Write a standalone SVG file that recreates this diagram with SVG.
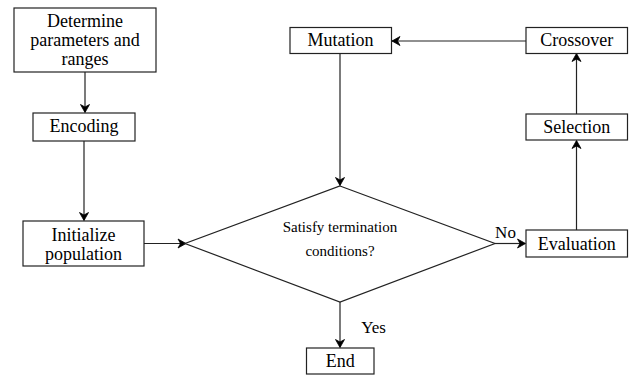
<svg xmlns="http://www.w3.org/2000/svg" width="632" height="376" viewBox="0 0 632 376">
<defs>
<marker id="arr" viewBox="-10 -6 12 12" markerWidth="12" markerHeight="12" refX="0" refY="0" orient="auto" markerUnits="userSpaceOnUse">
<path d="M-8,-4.5 L0,0 L-8,4.5 L-5.5,0 Z" fill="#000" stroke="#000" stroke-width="0.8"/>
</marker>
</defs>
<rect width="632" height="376" fill="#fff"/>
<g id="connectors" fill="none" stroke="#222" stroke-width="1.2" marker-end="url(#arr)">
<line x1="85" y1="72" x2="85" y2="112.5"/>
<line x1="84" y1="141" x2="84" y2="220.5"/>
<line x1="144" y1="243.5" x2="186" y2="243.5"/>
<line x1="340" y1="53.5" x2="340" y2="185.5"/>
<line x1="340" y1="302" x2="340" y2="347.5"/>
<line x1="495" y1="243.5" x2="525.5" y2="243.5"/>
<line x1="576.5" y1="230" x2="576.5" y2="140.5"/>
<line x1="576.5" y1="114" x2="576.5" y2="53.5"/>
<line x1="526" y1="41" x2="392" y2="41"/>
</g>
<g id="determine">
<rect x="14" y="8" width="142" height="64" fill="#fff" stroke="#222" stroke-width="1.2"/>
<text x="85" y="27" font-family="Liberation Serif, serif" font-size="18" text-anchor="middle">Determine</text>
<text x="85" y="46" font-family="Liberation Serif, serif" font-size="18" text-anchor="middle">parameters and</text>
<text x="85" y="65" font-family="Liberation Serif, serif" font-size="18" text-anchor="middle">ranges</text>
</g>
<g id="encoding">
<rect x="33" y="113" width="102" height="28" fill="#fff" stroke="#222" stroke-width="1.2"/>
<text x="84" y="132" font-family="Liberation Serif, serif" font-size="18" text-anchor="middle">Encoding</text>
</g>
<g id="initialize">
<rect x="23" y="221" width="121" height="45" fill="#fff" stroke="#222" stroke-width="1.2"/>
<text x="83.5" y="241" font-family="Liberation Serif, serif" font-size="18" text-anchor="middle">Initialize</text>
<text x="83.5" y="260" font-family="Liberation Serif, serif" font-size="18" text-anchor="middle">population</text>
</g>
<g id="decision">
<polygon points="340,186 495,243.5 340,302 185,243.5" fill="#fff" stroke="#222" stroke-width="1.2"/>
<text x="340" y="231.5" font-family="Liberation Serif, serif" font-size="15" text-anchor="middle">Satisfy termination</text>
<text x="340" y="255.5" font-family="Liberation Serif, serif" font-size="15" text-anchor="middle">conditions?</text>
</g>
<g id="mutation">
<rect x="290" y="27.5" width="101.5" height="26" fill="#fff" stroke="#222" stroke-width="1.2"/>
<text x="340.5" y="46" font-family="Liberation Serif, serif" font-size="18" text-anchor="middle">Mutation</text>
</g>
<g id="crossover">
<rect x="526" y="27.5" width="101.5" height="26" fill="#fff" stroke="#222" stroke-width="1.2"/>
<text x="576.7" y="46" font-family="Liberation Serif, serif" font-size="18" text-anchor="middle">Crossover</text>
</g>
<g id="selection">
<rect x="526" y="114" width="101.5" height="26" fill="#fff" stroke="#222" stroke-width="1.2"/>
<text x="576.7" y="132.5" font-family="Liberation Serif, serif" font-size="18" text-anchor="middle">Selection</text>
</g>
<g id="evaluation">
<rect x="526" y="230" width="101.5" height="27" fill="#fff" stroke="#222" stroke-width="1.2"/>
<text x="576.7" y="249.5" font-family="Liberation Serif, serif" font-size="18" text-anchor="middle">Evaluation</text>
</g>
<g id="end">
<rect x="306.5" y="348" width="67.5" height="26" fill="#fff" stroke="#222" stroke-width="1.2"/>
<text x="340.3" y="366.5" font-family="Liberation Serif, serif" font-size="18" text-anchor="middle">End</text>
</g>
<g id="labels">
<text x="505.5" y="238" font-family="Liberation Serif, serif" font-size="17" text-anchor="middle">No</text>
<text x="373.5" y="332.5" font-family="Liberation Serif, serif" font-size="17" text-anchor="middle">Yes</text>
</g>
</svg>
